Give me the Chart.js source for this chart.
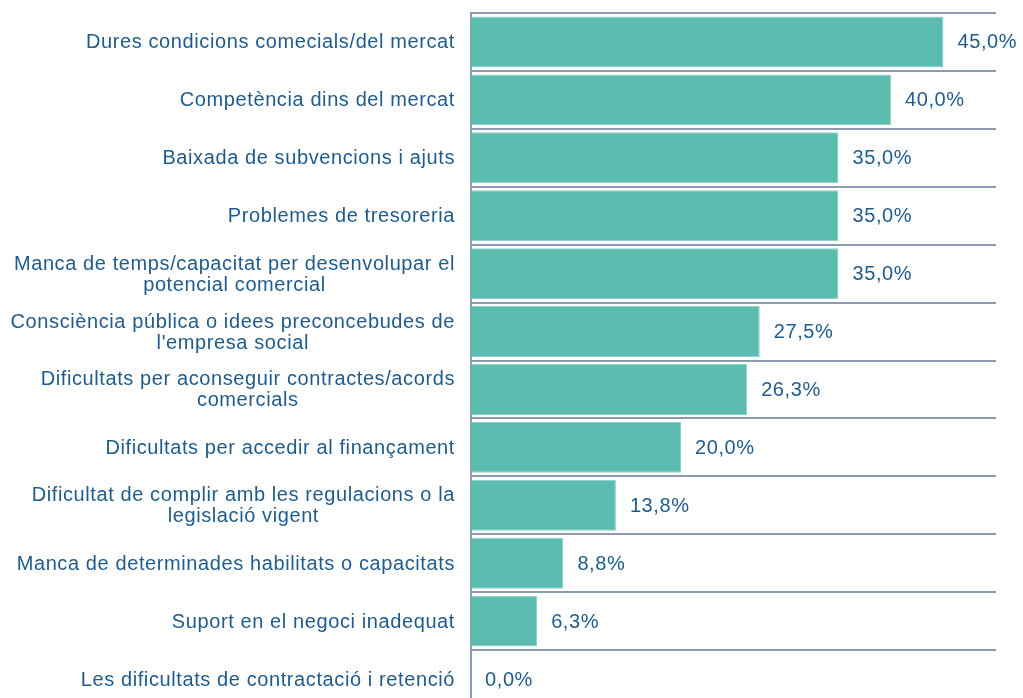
<!DOCTYPE html>
<html>
<head>
<meta charset="utf-8">
<script src="https://cdn.jsdelivr.net/npm/chart.js@4.4.0/dist/chart.umd.min.js"></script>
<style>
  html, body { margin: 0; padding: 0; background: #fff; overflow: hidden; }
  #wrap { width: 1023px; height: 708px; }
</style>
</head>
<body>
<div id="wrap"><canvas id="myChart"></canvas></div>
<script>
// Categories (multi-line labels as arrays)
const categories = [
  "Dures condicions comecials/del mercat",
  "Competència dins del mercat",
  "Baixada de subvencions i ajuts",
  "Problemes de tresoreria",
  ["Manca de temps/capacitat per desenvolupar el", "potencial comercial"],
  ["Consciència pública o idees preconcebudes de", "l'empresa social"],
  ["Dificultats per aconseguir contractes/acords", "comercials"],
  "Dificultats per accedir al finançament",
  ["Dificultat de complir amb les regulacions o la", "legislació vigent"],
  "Manca de determinades habilitats o capacitats",
  "Suport en el negoci inadequat",
  "Les dificultats de contractació i retenció"
];

const percentatges = [45.0, 40.0, 35.0, 35.0, 35.0, 27.5, 26.3, 20.0, 13.8, 8.8, 6.3, 0.0];

const textColor = "#1F5B8C";
const gridColor = "#8C9BAF";
const barColor = "#5BBCB0";
const fontFamily = "'Liberation Sans', Arial, sans-serif";

// draws category labels (centered per line, block right aligned) and value labels
const labelsPlugin = {
  id: "labelsPlugin",
  afterDraw(chart) {
    const ctx = chart.ctx;
    const yScale = chart.scales.y;
    const meta = chart.getDatasetMeta(0);
    const lineHeight = 21;
    ctx.save();
    ctx.font = "20px " + fontFamily;
    ctx.letterSpacing = "0.6px";
    ctx.fillStyle = textColor;
    ctx.textBaseline = "middle";
    ctx.textAlign = "center";

    categories.forEach((cat, i) => {
      const lines = Array.isArray(cat) ? cat : [cat];
      const widths = lines.map(l => ctx.measureText(l).width);
      const blockWidth = Math.max(...widths);
      const cx = yScale.right - 16 - blockWidth / 2;
      const cy = yScale.getPixelForValue(i);
      const top = cy - (lines.length - 1) * lineHeight / 2;
      lines.forEach((l, j) => ctx.fillText(l, cx, top + j * lineHeight + 1));
    });

    ctx.textAlign = "left";
    meta.data.forEach((bar, i) => {
      const txt = percentatges[i].toFixed(1).replace(".", ",") + "%";
      ctx.fillText(txt, bar.x + 14, bar.y + 1);
    });
    ctx.restore();
  }
};

document.addEventListener("DOMContentLoaded", () => {
  const ctx = document.getElementById("myChart");

  new Chart(ctx, {
    type: "bar",
    data: {
      labels: categories,
      datasets: [{
        data: percentatges,
        backgroundColor: barColor,
        borderColor: "#8ED2C9",
        borderWidth: 1,
        barPercentage: 0.88,
        categoryPercentage: 1.0
      }]
    },
    options: {
      indexAxis: "y",
      responsive: true,
      maintainAspectRatio: false,
      animation: false,
      layout: { padding: { top: 13, right: 27, bottom: 0, left: 0 } },
      plugins: {
        legend: { display: false },
        tooltip: { enabled: false }
      },
      scales: {
        x: {
          display: false,
          min: 0,
          max: 50
        },
        y: {
          afterFit(scale) { scale.width = 471; },
          ticks: { display: false },
          grid: {
            color: gridColor,
            lineWidth: 2,
            drawTicks: false,
            offset: true
          },
          border: { color: gridColor, width: 2 }
        }
      }
    },
    plugins: [labelsPlugin]
  });
});
</script>
</body>
</html>
